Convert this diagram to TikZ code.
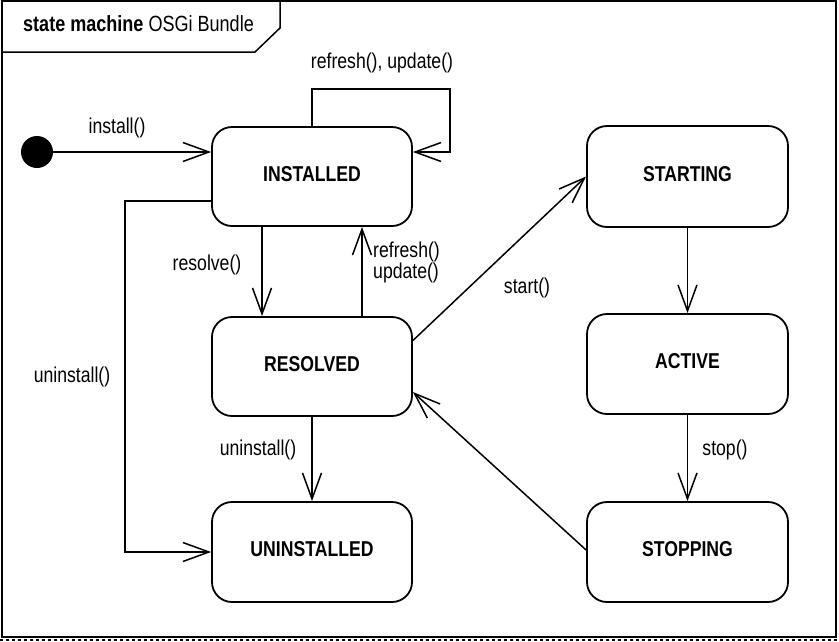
\documentclass[tikz,border=0pt]{standalone}
\usepackage{fontspec}
\setmainfont{Liberation Sans}[FakeStretch=0.82]
\usetikzlibrary{arrows.meta}
\newcommand{\diafont}{\fontsize{21.5}{21}\selectfont}
\tikzset{
  statebox/.style={draw, line width=1.8pt, rounded corners=20pt, minimum width=200pt, minimum height=99pt, font=\diafont\bfseries, inner sep=0pt, text depth=6pt},
  arr/.style={line width=1.5pt, -{Straight Barb[length=26pt,width=19pt,line width=1.5pt]}},
  lbl/.style={inner sep=0pt},
}
\begin{document}
\begin{tikzpicture}[x=1pt,y=-1pt,font=\diafont]
\useasboundingbox (0,0) rectangle (839,641);
% frame
\draw[line width=1.8pt] (2,1) rectangle (836,637);
\draw[dash pattern=on 3pt off 3pt, line width=1.2pt] (0,640) -- (839,640);
\draw[line width=1.5pt] (2,52) -- (255,52) -- (280,28) -- (280,1);
\node[lbl, anchor=west, font=\fontsize{22}{22}\selectfont] (title) at (23,24) {\textbf{state machine} OSGi Bundle};
% states
\node[statebox] (inst) at (312,176.5) {INSTALLED};
\node[statebox] (res) at (312,366.5) {RESOLVED};
\node[statebox, minimum height=100pt] (uninst) at (312,552) {UNINSTALLED};
\node[statebox, minimum width=201pt, minimum height=101pt] (start) at (687.5,176.5) {STARTING};
\node[statebox, minimum width=201pt, minimum height=100pt] (act) at (687.5,364) {ACTIVE};
\node[statebox, minimum width=201pt, minimum height=100pt] (stop) at (687.5,552) {STOPPING};
\node[circle, fill, minimum size=32pt, inner sep=0pt] (init) at (37,152) {};
% helper coordinates
\coordinate (loop) at (450,89);
\coordinate (uleft) at (125,201);
% connectors
\draw[arr] (init.east) -- (inst.west |- init);
\draw[arr] (inst.north) |- (loop) |- (inst.east |- init);
\draw[arr] (inst.west |- uleft) -- (uleft) |- (uninst.west);
\draw[arr] ([xshift=-50pt]inst.south) -- ([xshift=-50pt]res.north);
\draw[arr] ([xshift=50pt]res.north) -- ([xshift=50pt]inst.south);
\draw[arr] (res.south) -- (uninst.north);
\draw[arr] ([yshift=26pt]res.east) -- (start.west);
\draw[arr] (start.south) -- (act.north);
\draw[arr] (act.south) -- (stop.north);
\draw[arr] ([yshift=2pt]stop.west) -- ([yshift=-25.5pt]res.east);
% labels
\node[lbl] (linstall) at (117,128) {install()};
\node[lbl] (lloop) at (382,63) {refresh(), update()};
\node[lbl] (lresolve) at (207,265) {resolve()};
\node[lbl, anchor=west, align=left, font=\fontsize{21.5}{20}\selectfont] (lrefresh) at (373,262) {refresh()\\update()};
\node[lbl] (lstart) at (527,288) {start()};
\node[lbl] (luninst1) at (72,377) {uninstall()};
\node[lbl] (luninst2) at (258,450) {uninstall()};
\node[lbl] (lstop) at (725,450) {stop()};
\end{tikzpicture}
\end{document}
